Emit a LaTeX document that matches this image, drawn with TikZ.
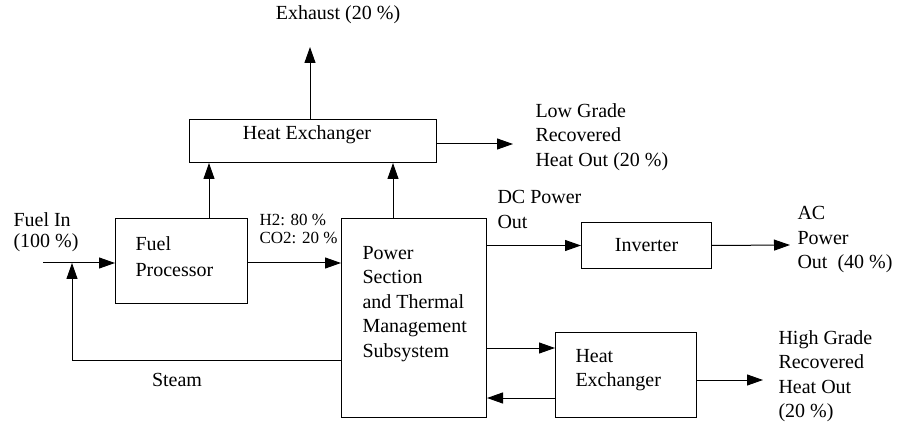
\documentclass[tikz,border=0pt]{standalone}
\usepackage{fontspec}
\setmainfont{Liberation Serif}
\usetikzlibrary{arrows.meta}
\begin{document}
\begin{tikzpicture}[x=1pt,y=-1pt,
  line width=1pt,
  box/.style={draw, inner sep=0pt, anchor=north west},
  txt/.style={inner sep=0pt, align=left, font=\fontsize{20}{24.5}\selectfont},
  small/.style={inner sep=0pt, align=left, font=\fontsize{17}{18}\selectfont},
  arr/.style={-{Triangle[length=16pt,width=11pt]}}]
\useasboundingbox (0,0) rectangle (905,430);
% boxes
\node[box, minimum width=247pt, minimum height=43pt] (hxtop) at (189,119) {};
\node[box, minimum width=132pt, minimum height=85pt] (fp) at (115,218) {};
\node[box, minimum width=145pt, minimum height=199pt] (ps) at (341,218) {};
\node[box, minimum width=130pt, minimum height=46pt, font=\fontsize{20}{24.5}\selectfont] (inv) at (581,222) {Inverter};
\node[box, minimum width=141pt, minimum height=85pt] (hxbot) at (555,332) {};
% texts
\node[txt] (thxtop) at (307,135) {Heat Exchanger};
\node[txt] (texh) at (338,15) {Exhaust (20 \%)};
\node[txt, anchor=west] (tlow) at (535,137) {Low Grade\\Recovered\\Heat Out (20 \%)};
\node[txt, anchor=west, font=\fontsize{20}{21}\selectfont] (tfuel) at (13,232) {Fuel In\\(100 \%)};
\node[txt, anchor=west, font=\fontsize{20}{26}\selectfont] (tfp) at (135,257) {Fuel\\Processor};
\node[small, anchor=west] (th2) at (259,229) {H2: 80 \%\\CO2: 20 \%};
\node[txt, anchor=west] (tps) at (362,304) {Power\\Section\\and Thermal\\Management\\Subsystem};
\node[txt] (tsteam) at (177,380) {Steam};
\node[txt, anchor=west] (tdc) at (497,209.5) {DC Power\\Out};
\node[txt, anchor=west] (tac) at (797,240) {AC\\Power\\Out~ (40 \%)};
\node[txt, anchor=west] (thxb) at (575,370) {Heat\\Exchanger};
\node[txt, anchor=west] (thigh) at (778,376) {High Grade\\Recovered\\Heat Out\\(20 \%)};
% coordinates
\coordinate (exhtip) at (310,47);
\coordinate (lowtip) at (513,144);
\coordinate (fpx) at (209,0);
\coordinate (psx) at (393,0);
\coordinate (fin) at (43,263);
\coordinate (stm1) at (72,360);
\coordinate (stm2) at (72,263);
\coordinate (actip) at (790,245);
\coordinate (hy1) at (0,348);
\coordinate (hy2) at (0,398);
\coordinate (hightip) at (763,380);
% connectors
\draw[arr] (hxtop.north -| exhtip) -- (exhtip);
\draw[arr] (hxtop.east |- lowtip) -- (lowtip);
\draw[arr] (fp.north -| fpx) -- (hxtop.south -| fpx);
\draw[arr] (ps.north -| psx) -- (hxtop.south -| psx);
\draw[arr] (fin) -- (fin -| fp.west);
\draw[arr] (ps.west |- stm1) -- (stm1) -- (stm2);
\draw[arr] (fp.east |- fin) -- (ps.west |- fin);
\draw[arr] (ps.east |- inv.west) -- (inv.west);
\draw[arr] (inv.east) -- (actip);
\draw[arr] (ps.east |- hy1) -- (hxbot.west |- hy1);
\draw[arr] (hxbot.west |- hy2) -- (ps.east |- hy2);
\draw[arr] (hxbot.east |- hightip) -- (hightip);
\end{tikzpicture}
\end{document}
